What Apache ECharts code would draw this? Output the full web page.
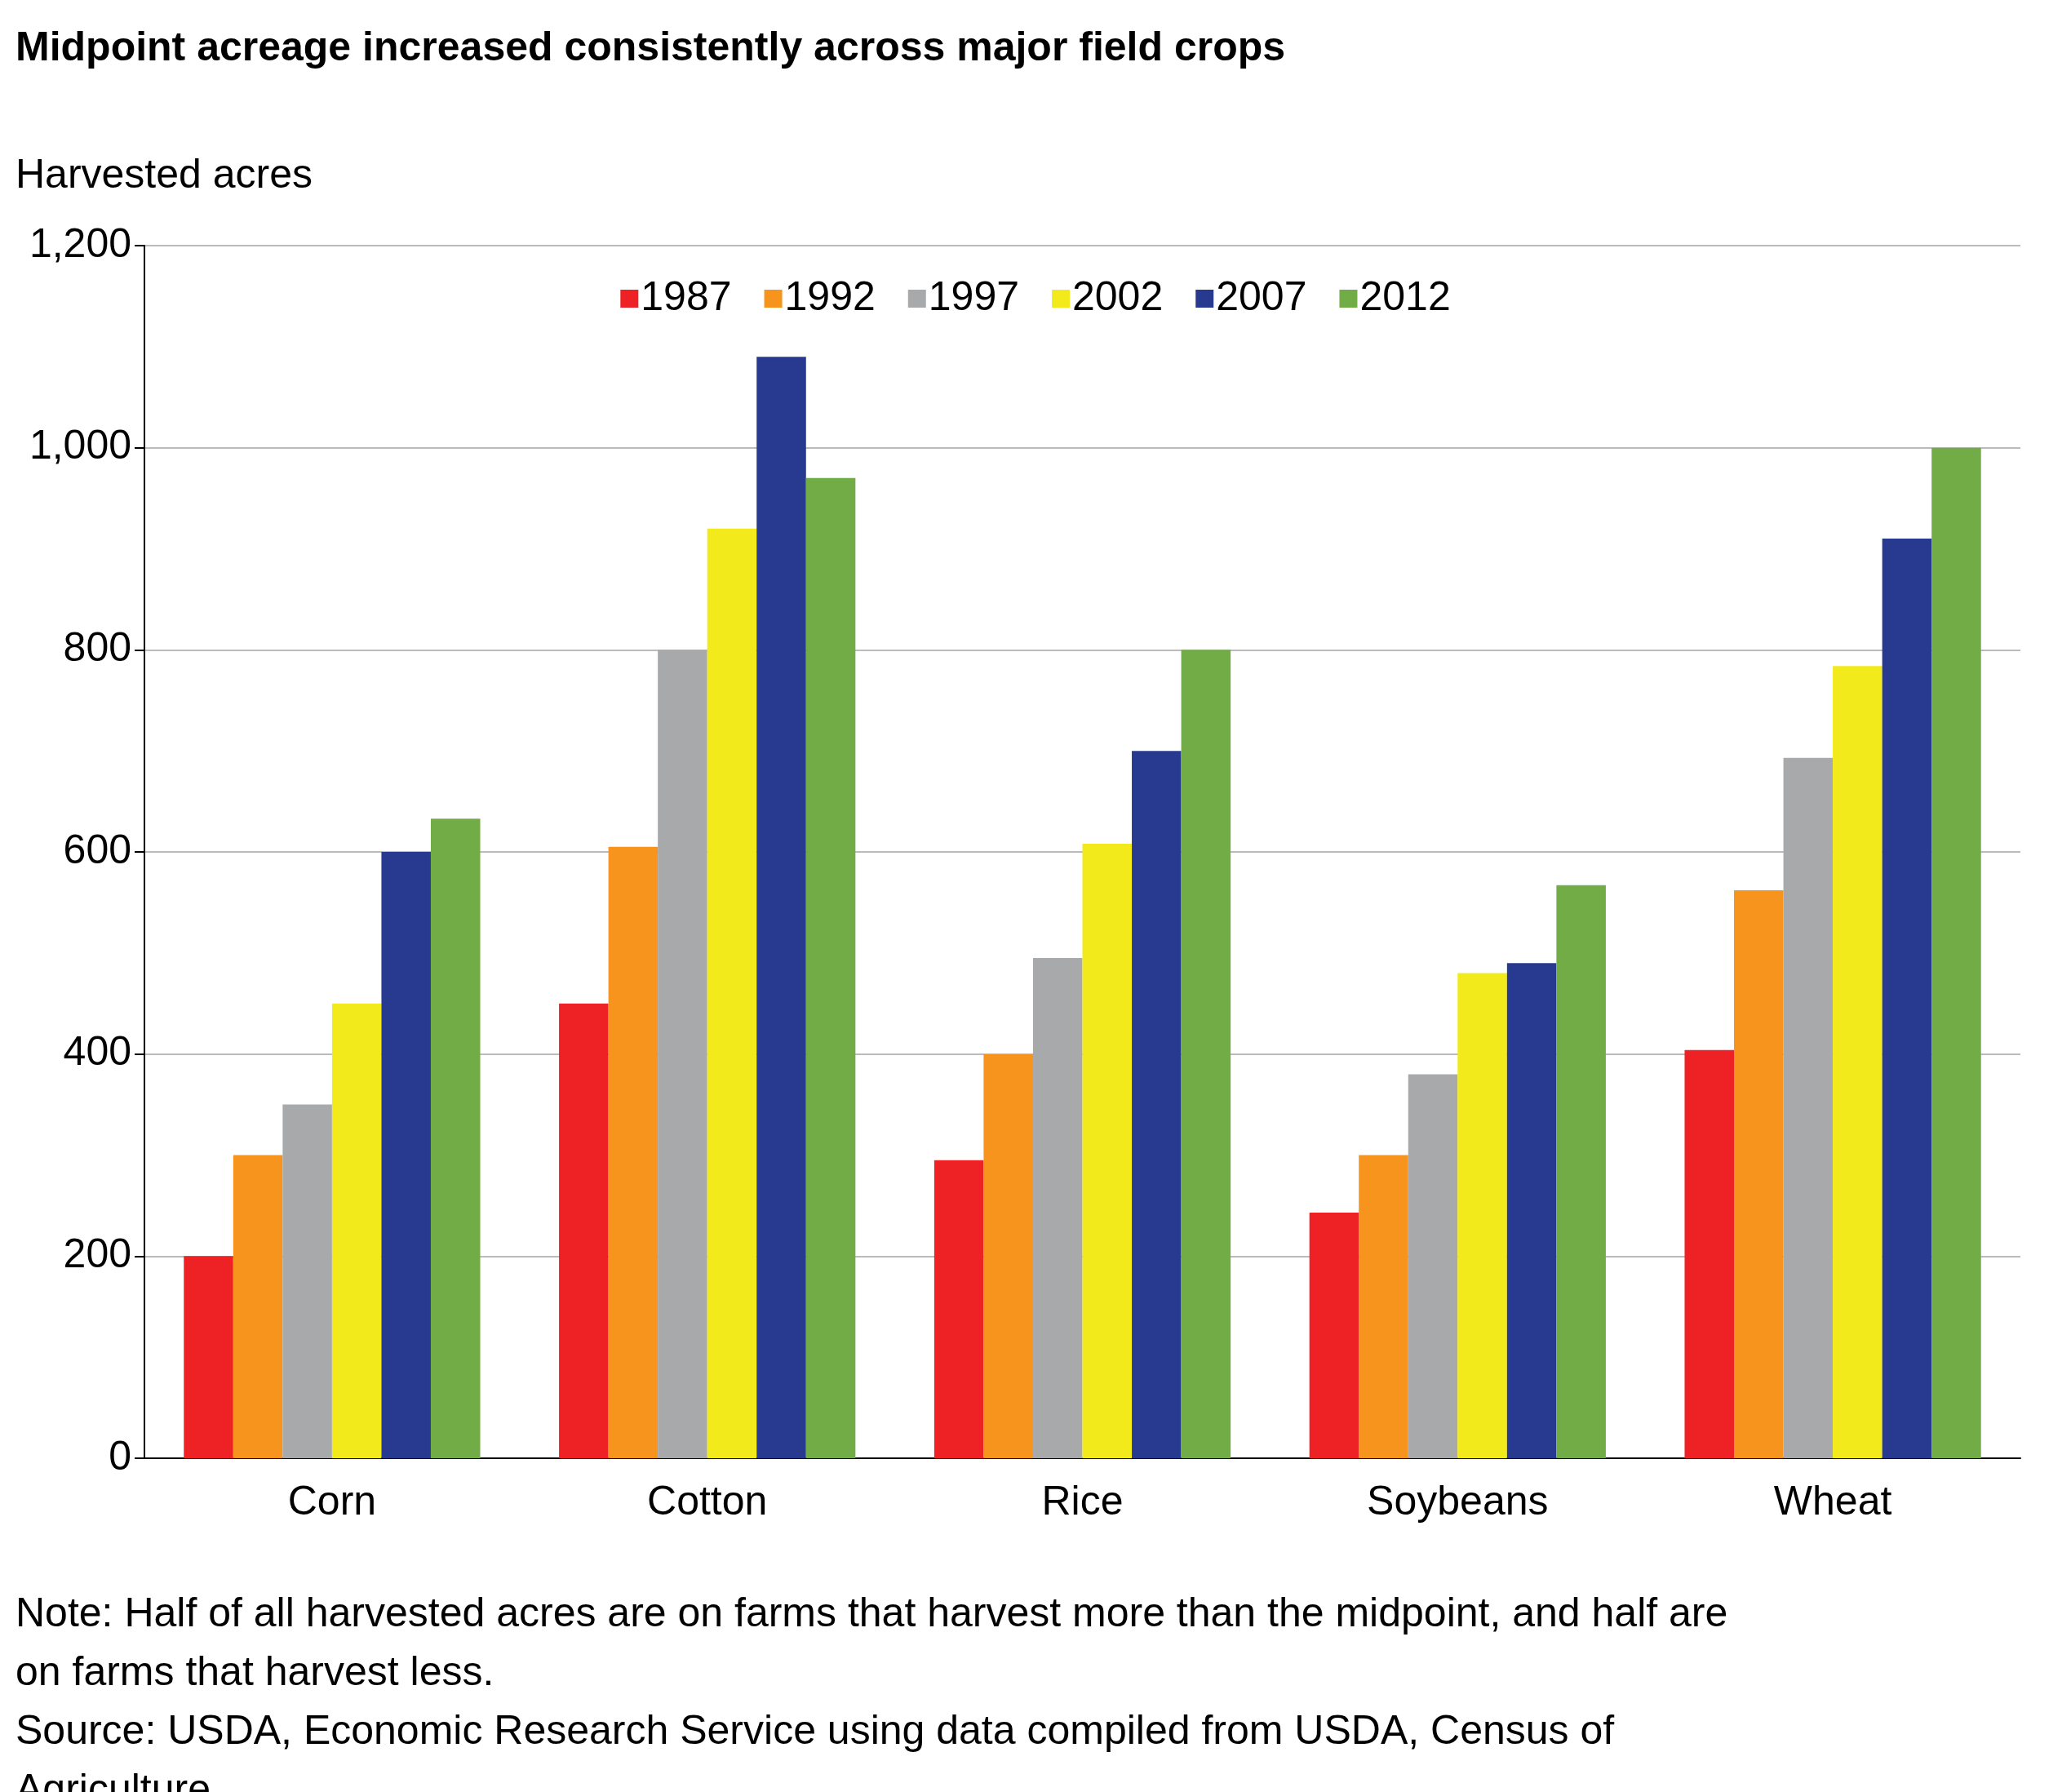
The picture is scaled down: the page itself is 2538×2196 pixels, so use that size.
<!DOCTYPE html>
<html><head><meta charset="utf-8">
<script src="https://cdn.jsdelivr.net/npm/echarts@6/dist/echarts.min.js"></script>
<style>html,body{margin:0;padding:0;background:#fff}#c{width:2538px;height:2196px}</style>
</head><body><div id="c"></div>
<script>
const crops = ['Corn', 'Cotton', 'Rice', 'Soybeans', 'Wheat']
const years = ['1987', '1992', '1997', '2002', '2007', '2012']
const v1987 = [200, 450, 295, 243, 404]
const v1992 = [300, 605, 400, 300, 562]
const v1997 = [350, 800, 495, 380, 693]
const v2002 = [450, 920, 608, 480, 784]
const v2007 = [600, 1090, 700, 490, 910]
const v2012 = [633, 970, 800, 567, 1000]
const colors = ['#ee2224', '#f7941d', '#a7a9ab', '#f2ea1a', '#283a8f', '#72ac46']
const font = 'Liberation Sans, Arial, sans-serif'

const chart = echarts.init(document.getElementById('c'))
chart.setOption({
  color: colors,
  textStyle: { fontFamily: font },
  title: [
    { text: 'Midpoint acreage increased consistently across major field crops', left: 14, top: 30,
      textStyle: { fontSize: 50, fontWeight: 'bold', color: '#000', fontFamily: font } },
    { text: 'Harvested acres', left: 14, top: 186,
      textStyle: { fontSize: 50, fontWeight: 'normal', color: '#000', fontFamily: font } },
    { text: 'Note: Half of all harvested acres are on farms that harvest more than the midpoint, and half are\non farms that harvest less.\nSource: USDA, Economic Research Service using data compiled from USDA, Census of\nAgriculture.',
      left: 14, top: 1938,
      textStyle: { fontSize: 50, fontWeight: 'normal', color: '#000', lineHeight: 72, fontFamily: font } }
  ],
  legend: {
    data: years, top: 336, left: 'center', itemWidth: 22, itemHeight: 22, itemGap: 40,
    icon: 'rect', textStyle: { fontSize: 50, color: '#000', padding: [0, 0, 0, -2] }
  },
  grid: { left: 177, right: 62, top: 301, bottom: 409 },
  xAxis: {
    type: 'category', data: crops,
    axisLine: { lineStyle: { color: '#000', width: 2 } },
    axisTick: { show: false },
    axisLabel: { fontSize: 50, color: '#000', margin: 30 }
  },
  yAxis: {
    type: 'value', min: 0, max: 1200, interval: 200,
    axisLine: { show: true, lineStyle: { color: '#000', width: 2 } },
    axisTick: { show: true, length: 12, lineStyle: { color: '#000', width: 2 } },
    axisLabel: { fontSize: 50, color: '#000', margin: 16,
      formatter: v => v.toLocaleString('en-US') },
    splitLine: { lineStyle: { color: '#bbbbbb', width: 2 } }
  },
  series: [v1987, v1992, v1997, v2002, v2007, v2012].map((d, i) => ({
    name: years[i], type: 'bar', data: d, barGap: '0%', barCategoryGap: '21%'
  }))
})
</script></body></html>
